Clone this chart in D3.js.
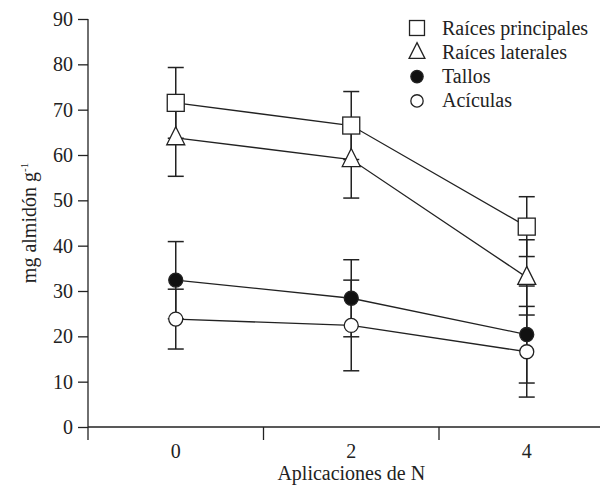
<!DOCTYPE html>
<html>
<head>
<meta charset="utf-8">
<script src="https://cdn.jsdelivr.net/npm/d3@7"></script>
<style>
  body { margin: 0; background: #fff; }
</style>
</head>
<body>
<div id="chart"></div>
<script>
const width = 600
const height = 487
const margin = { top: 19, right: 0, bottom: 60, left: 88 }
const font = "'Liberation Serif', 'Times New Roman', Times, 'DejaVu Serif', serif"

const doses = ["0", "2", "4"]
const series = ["Raíces principales", "Raíces laterales", "Tallos", "Acículas"]
const principales = [71.5, 66.5, 44.2]
const principalesErr = [7.8, 7.5, 6.6]
const laterales = [63.8, 59.0, 33.0]
const lateralesErr = [8.5, 8.5, 8.3]
const tallos = [32.4, 28.4, 20.4]
const tallosErr = [8.5, 8.5, 10.7]
const aciculas = [23.8, 22.4, 16.6]
const aciculasErr = [6.6, 10.0, 10.0]
const yTicks = [0, 10, 20, 30, 40, 50, 60, 70, 80, 90]

const data = [
    { name: series[0], shape: "square", values: principales, err: principalesErr },
    { name: series[1], shape: "triangle", values: laterales, err: lateralesErr },
    { name: series[2], shape: "filled", values: tallos, err: tallosErr },
    { name: series[3], shape: "open", values: aciculas, err: aciculasErr },
]

const svg = d3.select("div#chart").append("svg").attr("width", width).attr("height", height)
    .style("font-family", font)

const x = d3.scaleBand().domain(doses).range([margin.left, margin.left + 3 * 175.5])
const y = d3.scaleLinear().domain([0, 90]).range([height - margin.bottom, margin.top])
const cx = d => x(d) + x.bandwidth() / 2
const y0 = y(0)

// axes
const yAxisGroup = svg.append("g").attr("transform", `translate(${margin.left},0)`)
    .call(d3.axisLeft(y).tickValues(yTicks).tickSize(10).tickPadding(5))
yAxisGroup.select(".domain").remove()
yAxisGroup.selectAll("line").attr("stroke", "#222").attr("stroke-width", 1.3)

const xAxisGroup = svg.append("g").attr("transform", `translate(0,${y0})`)
    .call(d3.axisBottom(x).tickSize(0))
xAxisGroup.select(".domain").remove()
xAxisGroup.selectAll("text").attr("dy", null).attr("y", 31)

svg.selectAll(".tick text").style("font-family", font).style("font-size", "20px").attr("fill", "#222")

const axisLines = svg.append("g").attr("stroke", "#222").attr("stroke-width", 1.3)
axisLines.append("line").attr("x1", margin.left).attr("x2", margin.left)
    .attr("y1", y(90)).attr("y2", y0 + 13)
axisLines.append("line").attr("x1", margin.left).attr("x2", width)
    .attr("y1", y0).attr("y2", y0)
axisLines.selectAll("line.xt").data(doses.slice(1)).enter().append("line")
    .attr("class", "xt")
    .attr("x1", d => x(d)).attr("x2", d => x(d))
    .attr("y1", y0).attr("y2", y0 + 13)

svg.append("text").attr("x", cx("2")).attr("y", y0 + 53)
    .attr("text-anchor", "middle").attr("fill", "#222")
    .style("font-size", "20px").text("Aplicaciones de N")

const yTitle = svg.append("text").attr("transform", `translate(36,${y(45)}) rotate(-90)`)
    .attr("text-anchor", "middle").attr("fill", "#222").style("font-size", "20px")
yTitle.append("tspan").text("mg almidón g")
yTitle.append("tspan").attr("dy", -8).style("font-size", "11px").text("-1")

// lines
const line = d3.line().x((d, i) => cx(doses[i])).y(d => y(d))
svg.append("g").selectAll("path").data(data).enter().append("path")
    .attr("d", d => line(d.values))
    .attr("fill", "none").attr("stroke", "#222").attr("stroke-width", 1.3)

// error bars
const bars = svg.append("g").attr("stroke", "#222").attr("stroke-width", 1.5)
data.forEach(s => {
    s.values.forEach((v, i) => {
        const px = cx(doses[i])
        const lo = y(v - s.err[i])
        const hi = y(v + s.err[i])
        bars.append("line").attr("x1", px).attr("x2", px).attr("y1", lo).attr("y2", hi)
        bars.append("line").attr("x1", px - 8).attr("x2", px + 8).attr("y1", lo).attr("y2", lo)
        bars.append("line").attr("x1", px - 8).attr("x2", px + 8).attr("y1", hi).attr("y2", hi)
    })
})

// markers
function drawMarker(g, shape, px, py, k = 1) {
    if (shape === "square") {
        g.append("rect").attr("x", px - 8.5 * k).attr("y", py - 8.5 * k)
            .attr("width", 17 * k).attr("height", 17 * k)
            .attr("fill", "#fff").attr("stroke", "#222").attr("stroke-width", 1.3)
    } else if (shape === "triangle") {
        g.append("path").attr("d", `M${px},${py - 11 * k}L${px + 9 * k},${py + 7 * k}L${px - 9 * k},${py + 7 * k}Z`)
            .attr("fill", "#fff").attr("stroke", "#222").attr("stroke-width", 1.3)
    } else {
        g.append("circle").attr("cx", px).attr("cy", py).attr("r", 7 * k)
            .attr("fill", shape === "filled" ? "#111" : "#fff").attr("stroke", "#222").attr("stroke-width", 1.3)
    }
}

const markers = svg.append("g")
data.forEach(s => {
    s.values.forEach((v, i) => drawMarker(markers, s.shape, cx(doses[i]), y(v)))
})

// legend
const legend = svg.append("g")
data.forEach((s, i) => {
    const ly = 28 + i * 24.3
    drawMarker(legend, s.shape, 417, ly, 0.88)
    legend.append("text").attr("x", 442).attr("y", ly + 6.5).attr("fill", "#222")
        .style("font-size", "20px").text(s.name)
})
</script>
</body>
</html>
